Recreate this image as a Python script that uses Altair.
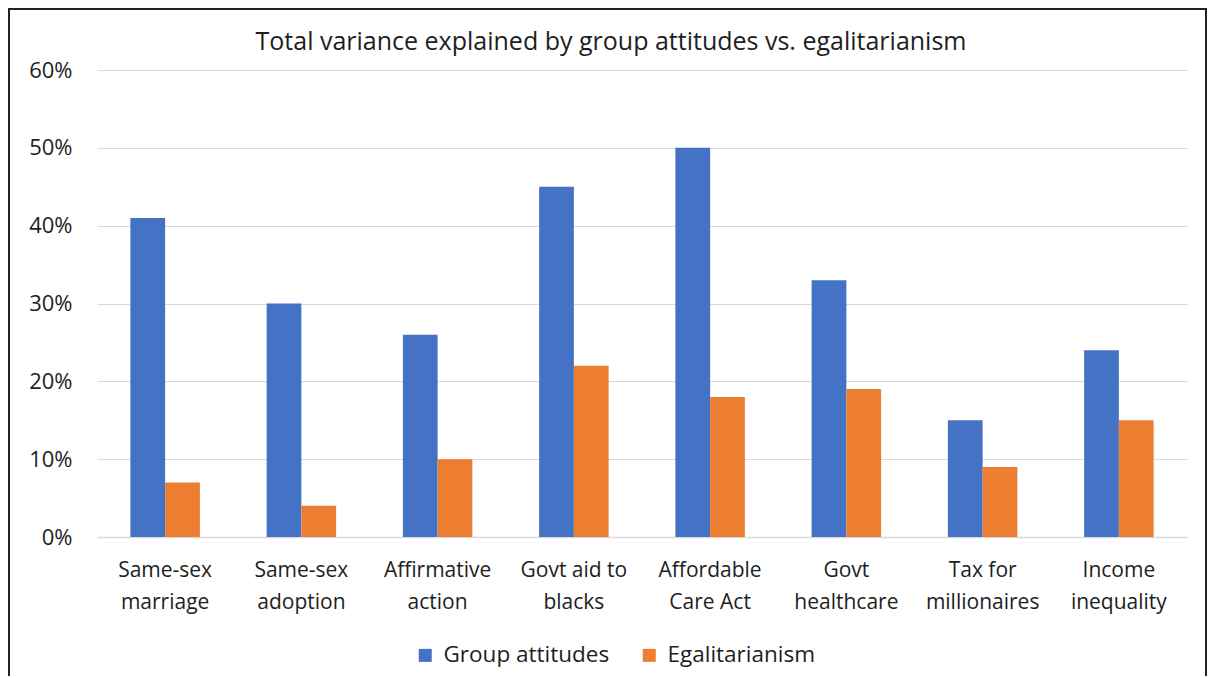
import altair as alt
import pandas as pd

categories = ["Same-sex\nmarriage", "Same-sex\nadoption", "Affirmative\naction",
              "Govt aid to\nblacks", "Affordable\nCare Act", "Govt\nhealthcare",
              "Tax for\nmillionaires", "Income\ninequality"]
group_attitudes = [0.41, 0.30, 0.26, 0.45, 0.50, 0.33, 0.15, 0.24]
egalitarianism = [0.07, 0.04, 0.10, 0.22, 0.18, 0.19, 0.09, 0.15]
series = ["Group attitudes", "Egalitarianism"]
colors = ["#4472C4", "#ED7D31"]
y_ticks = [0, 0.1, 0.2, 0.3, 0.4, 0.5, 0.6]

rows = []
for c, g, e in zip(categories, group_attitudes, egalitarianism):
    rows.append({"category": c, "series": series[0], "value": g})
    rows.append({"category": c, "series": series[1], "value": e})
df = pd.DataFrame(rows)

FONT = "Open Sans"
TXT = "#1e1e1e"

bars = alt.Chart(df).mark_bar().encode(
    x=alt.X("category:N", sort=categories, title=None,
            scale=alt.Scale(paddingInner=0.49, paddingOuter=0.245),
            axis=alt.Axis(labelAngle=0, labelExpr="split(datum.label, '\\n')",
                          labelFontSize=21, labelColor=TXT, labelFont=FONT,
                          labelPadding=22, labelLineHeight=32, ticks=False,
                          labelLimit=300,
                          domain=True, domainColor="#D9D9D9", domainWidth=1.5)),
    xOffset=alt.XOffset("series:N", sort=series, scale=alt.Scale(paddingInner=0, paddingOuter=0)),
    y=alt.Y("value:Q", title=None,
            scale=alt.Scale(domain=[0, 0.6], nice=False),
            axis=alt.Axis(values=y_ticks, format=".0%", labelFontSize=22,
                          labelColor=TXT, labelFont=FONT, labelPadding=25,
                          ticks=False, domain=False, grid=True,
                          gridColor="#D9D9D9", gridWidth=1.2)),
    color=alt.Color("series:N", sort=series,
                    scale=alt.Scale(domain=series, range=colors),
                    legend=alt.Legend(title=None, orient="none", direction="horizontal",
                                      legendX=317, legendY=574, symbolType="square",
                                      symbolSize=169, symbolStrokeWidth=0,
                                      labelFontSize=22.5, labelFont=FONT,
                                      labelColor=TXT, columnPadding=28,
                                      labelOffset=7, labelLimit=400)),
)

border = alt.Chart(alt.Data(values=[{}])).mark_rect(
    fill=None, stroke="#222222", strokeWidth=2
).encode(x=alt.value(-88), x2=alt.value(1109), y=alt.value(-61), y2=alt.value(700))

chart = alt.layer(bars, border).properties(
    width=1090, height=467,
    autosize=alt.AutoSizeParams(type="none"),
    padding={"left": 89, "top": 62, "right": 20, "bottom": 139},
    title=alt.TitleParams("Total variance explained by group attitudes vs. egalitarianism",
                          fontSize=25, font=FONT, fontWeight="normal", color=TXT,
                          dx=-31, offset=-47),
    background="white",
).configure_view(stroke=None)

chart.save("out.html", embed_options={"renderer": "svg", "actions": False})
